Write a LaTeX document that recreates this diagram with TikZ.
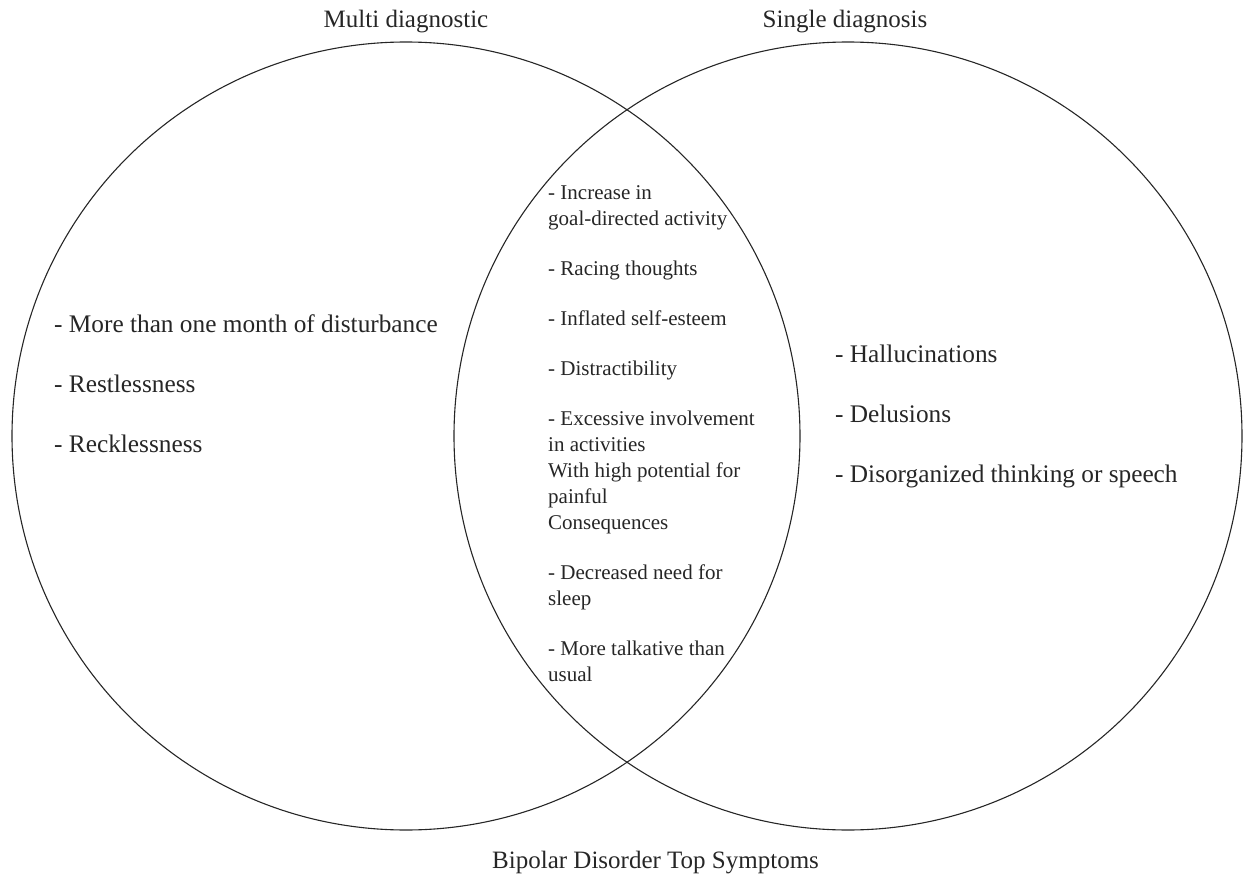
\documentclass[tikz,border=0pt]{standalone}
\usepackage{fontspec}
\setmainfont{Liberation Serif}
\begin{document}
\begin{tikzpicture}[x=1pt,y=-1pt,
  setcircle/.style={circle,draw=black!85,line width=1.1pt,minimum size=788pt,inner sep=0pt},
  heading/.style={font=\fontsize{25}{30}\selectfont,text=black!85,inner sep=0pt,anchor=base},
  sideline/.style={font=\fontsize{25.3}{30}\selectfont,text=black!85,inner sep=0pt,anchor=base west},
  midline/.style={font=\fontsize{21}{26}\selectfont,text=black!85,inner sep=0pt,anchor=base west}]
\useasboundingbox (0,0) rectangle (1243,875);
% the two overlapping sets
\node[setcircle] (multi) at (406,436) {};
\node[setcircle] (single) at (848,436) {};
% set titles and caption
\node[heading] (multititle) at (406,28) {Multi diagnostic};
\node[heading] (singletitle) at (845,28) {Single diagnosis};
\node[heading,anchor=base west] (caption) at (492,868) {Bipolar Disorder Top Symptoms};
% symptoms of the left set only
\foreach \y/\t [count=\i] in {332/- More than one month of disturbance,392/- Restlessness,452/- Recklessness}
  \node[sideline] (multiitem\i) at (54,\y) {\t};
% symptoms of the right set only
\foreach \y/\t [count=\i] in {362/- Hallucinations,422/- Delusions,482/- Disorganized thinking or speech}
  \node[sideline] (singleitem\i) at (835,\y) {\t};
% shared symptoms
\foreach \y/\t [count=\i] in {199/- Increase in,225/goal-directed activity,275/- Racing thoughts,
    325/- Inflated self-esteem,375/- Distractibility,425/- Excessive involvement,451/in activities,
    477/With high potential for,503/painful,529/Consequences,579/- Decreased need for,605/sleep,
    655/- More talkative than,681/usual}
  \node[midline] (shared\i) at (548,\y) {\t};
\end{tikzpicture}
\end{document}
